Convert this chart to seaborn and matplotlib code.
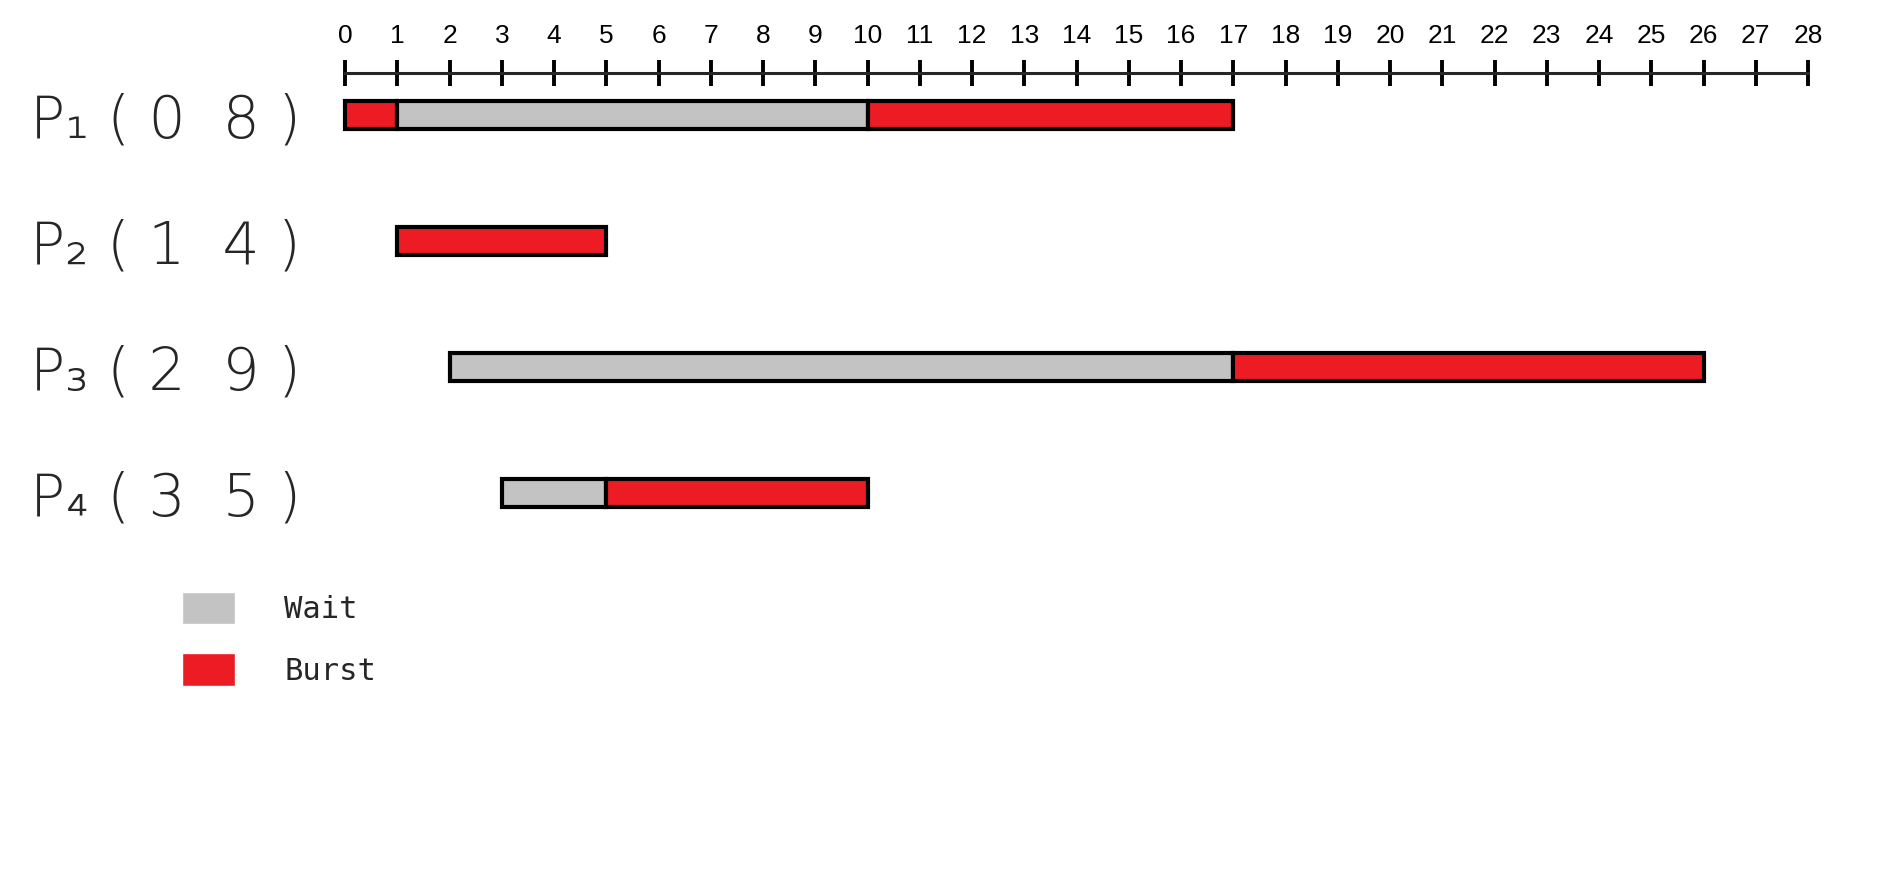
import pandas as pd
import seaborn as sns
import matplotlib.pyplot as plt
from matplotlib.patches import Patch

# process rows, with (arrival, burst) shown in the label
processes = ["P1", "P2", "P3", "P4"]
proc_labels = ["P₁ ( 0  8 )", "P₂ ( 1  4 )", "P₃ ( 2  9 )", "P₄ ( 3  5 )"]

# one entry per bar segment
seg_proc = ["P1", "P1", "P1", "P2", "P3", "P3", "P4", "P4"]
seg_start = [0, 1, 10, 1, 2, 17, 3, 5]
seg_end = [1, 10, 17, 5, 17, 26, 5, 10]
seg_kind = ["Burst", "Wait", "Burst", "Burst", "Wait", "Burst", "Wait", "Burst"]

time_ticks = list(range(0, 29))

palette = {"Wait": "#c3c3c3", "Burst": "#ed1c24"}

df = pd.DataFrame({"proc": seg_proc, "start": seg_start, "end": seg_end, "kind": seg_kind})
df["row"] = pd.Categorical(df["proc"], categories=processes).codes
df["dur"] = df["end"] - df["start"]

sns.set_style("white")
plt.rcParams["font.family"] = ["DejaVu Sans"]

fig = plt.figure(figsize=(18.96, 8.82), dpi=100)
ax = fig.add_axes([0.182, 0.3696, 0.7716, 0.548])

for _, r in df.iterrows():
    ax.barh(r["row"], r["dur"], left=r["start"], height=0.22,
            color=palette[r["kind"]], edgecolor="black", linewidth=3,
            clip_on=False, zorder=3)

ax.set_xlim(0, 28)
ax.set_ylim(3.5, -0.337)

# time axis drawn along the top
for s in ["left", "right", "bottom"]:
    ax.spines[s].set_visible(False)
ax.spines["top"].set_linewidth(2.2)
ax.xaxis.tick_top()
ax.set_xticks(time_ticks)
ax.set_xticklabels([str(t) for t in time_ticks], family="Liberation Sans", fontsize=19)
ax.tick_params(axis="x", direction="inout", length=19, width=2.8, pad=8, colors="black")

ax.set_yticks(range(len(processes)))
ax.set_yticklabels(proc_labels, fontsize=42, fontweight="light", ha="left")
ax.tick_params(axis="y", length=0, pad=227)
ax.grid(False)

handles = [Patch(facecolor=palette["Wait"], label="Wait"),
           Patch(facecolor=palette["Burst"], label="Burst")]
fig.legend(handles=handles, loc="upper left", bbox_to_anchor=(0.096, 0.329),
           frameon=False, prop={"family": "DejaVu Sans Mono", "size": 22},
           handlelength=1.75, handleheight=1.25, handletextpad=1.6,
           labelspacing=0.95, borderpad=0, borderaxespad=0)

plt.savefig("out.png", dpi=100)
